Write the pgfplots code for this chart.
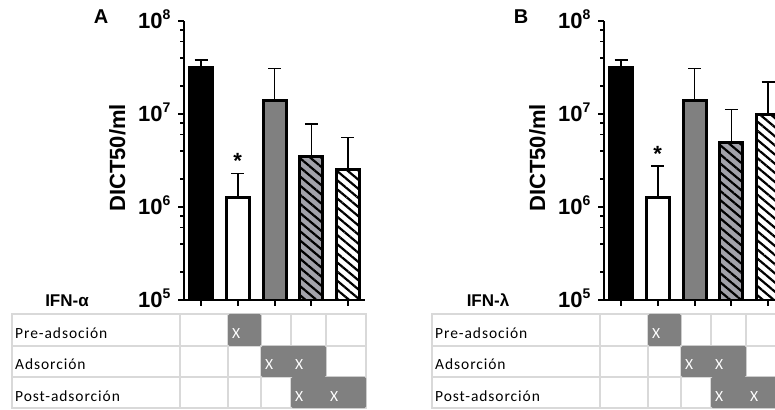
\documentclass[border=0pt]{standalone}
\usepackage{pgfplots}
\pgfplotsset{compat=1.18}
\usepackage{fontspec}
\setmainfont{Liberation Sans}
\newfontfamily\calib{Carlito}[LetterSpace=6]
\usetikzlibrary{patterns.meta}
\definecolor{gridc}{HTML}{D9D9D9}
\definecolor{cellc}{HTML}{808080}
\definecolor{barC}{HTML}{808080}
\definecolor{barD}{HTML}{A2A2AA}
\newcommand\bigb{\bfseries\fontsize{20}{24}\selectfont}
\newcommand\tickf{\bfseries\fontsize{22}{24}\selectfont}
\newcommand\tl[1]{10\raisebox{0.42em}{\fontsize{14}{14}\selectfont #1}}
\newcommand\tfont{\calib\fontsize{15.5}{18}\selectfont}
\tikzset{hatchlines/.style={pattern={Lines[angle=-40,distance=7pt,line width=2.2pt]}, pattern color=black}}
\pgfplotsset{myprism/.style={
  scale only axis, width=181pt, height=279pt, anchor=south west,
  xmin=0.537, xmax=5.463, ymin=1e5, ymax=1e8,
  axis x line*=bottom, axis y line*=left,
  axis line style={line width=2.5pt},
  axis on top,
  xtick={1,2,3,4,5}, xticklabels={},
  ytick={1e5,1e6,1e7,1e8},
  yticklabels={\tl{5},\tl{6},\tl{7},\tl{8}},
  minor ytick={2e5,4e5,6e5,8e5,2e6,4e6,6e6,8e6,2e7,4e7,6e7,8e7},
  tick align=outside, major tick length=6pt, minor tick length=4pt,
  major tick style={line width=2pt, black},
  minor tick style={line width=1.5pt, black},
  yticklabel style={font=\tickf, anchor=base east, yshift=-8pt, xshift=-4pt},
  bar width=23pt,
}}
\pgfplotsset{mybar/.style={ybar, bar shift=0pt, line width=3pt, draw=black,
  /pgfplots/error bars/y dir=plus, /pgfplots/error bars/y explicit,
  /pgfplots/error bars/error bar style={line width=1.5pt, black},
  /pgfplots/error bars/error mark options={rotate=90, mark size=6.5pt, line width=1.5pt, black}}}
\newcommand\tablecore{%
  \draw[gridc, line width=1.5pt] (12,1) rectangle (366,95);
  \foreach \yy in {32,63} {\draw[gridc, line width=1.5pt] (12,\yy) -- (366,\yy);}
  \foreach \xx in {180,228,261,291,326} {\draw[gridc, line width=1.5pt] (\xx,1) -- (\xx,95);}
  \fill[cellc, rounded corners=1.5pt] (228,63) rectangle (261,95);
  \fill[cellc, rounded corners=1.5pt] (261,32) rectangle (326,63);
  \fill[cellc, rounded corners=1.5pt] (291,1) rectangle (366,32);
  \node[anchor=base west, inner sep=0pt, font=\tfont] at (15,70) {Pre-adsoción};
  \node[anchor=base west, inner sep=0pt, font=\tfont] at (15,39) {Adsorción};
  \node[anchor=base west, inner sep=0pt, font=\tfont] at (15,8) {Post-adsorción};
  \node[anchor=base west, inner sep=0pt, font=\tfont, text=white] at (232,70) {X};
  \node[anchor=base west, inner sep=0pt, font=\tfont, text=white] at (265,39) {X};
  \node[anchor=base west, inner sep=0pt, font=\tfont, text=white] at (295,39) {X};
  \node[anchor=base west, inner sep=0pt, font=\tfont, text=white] at (295,8) {X};
  \node[anchor=base west, inner sep=0pt, font=\tfont, text=white] at (330,8) {X};
}
\begin{document}
\begin{tikzpicture}[x=1pt,y=1pt]
\useasboundingbox (0,0) rectangle (775,409);
\clip (0,0) rectangle (775,409);
\fill[white] (0,0) rectangle (775,409);
% ---------- Panel A ----------
\begin{semilogyaxis}[myprism, at={(184pt,109pt)}]
\addplot[mybar, fill=black] coordinates {(1,3.2e7) +- (0,0.6e7)};
\addplot[mybar, fill=white] coordinates {(2,1.25e6) +- (0,1.05e6)};
\addplot[mybar, fill=barC] coordinates {(3,1.4e7) +- (0,1.7e7)};
\addplot[mybar, fill=barD, postaction={hatchlines}] coordinates {(4,3.5e6) +- (0,4.3e6)};
\addplot[mybar, fill=white, postaction={hatchlines}] coordinates {(5,2.5e6) +- (0,3.1e6)};
\node[font=\tickf, yshift=-4pt] at (axis cs:2,3.45e6) {*};
\end{semilogyaxis}
\node[rotate=90, anchor=base, font=\bfseries\fontsize{22}{24}\selectfont] at (125,251) {DICT50/ml};
\node[font=\bigb] at (101,392) {A};
\node[anchor=base, font=\bfseries\fontsize{17}{20}\selectfont] at (67,102) {IFN-α};
\tablecore
% ---------- Panel B ----------
\begin{semilogyaxis}[myprism, at={(604pt,109pt)}]
\addplot[mybar, fill=black] coordinates {(1,3.2e7) +- (0,0.6e7)};
\addplot[mybar, fill=white] coordinates {(2,1.25e6) +- (0,1.5e6)};
\addplot[mybar, fill=barC] coordinates {(3,1.4e7) +- (0,1.7e7)};
\addplot[mybar, fill=barD, postaction={hatchlines}] coordinates {(4,4.9e6) +- (0,6.3e6)};
\addplot[mybar, fill=white, postaction={hatchlines}] coordinates {(5,9.8e6) +- (0,1.22e7)};
\node[font=\tickf, yshift=-4pt] at (axis cs:2,4.1e6) {*};
\end{semilogyaxis}
\node[rotate=90, anchor=base, font=\bfseries\fontsize{22}{24}\selectfont] at (545,251) {DICT50/ml};
\node[font=\bigb] at (521,392) {B};
\node[anchor=base, font=\bfseries\fontsize{17}{20}\selectfont] at (488,102) {IFN-λ};
\begin{scope}[xshift=420pt]
\tablecore
\end{scope}
\end{tikzpicture}
\end{document}
